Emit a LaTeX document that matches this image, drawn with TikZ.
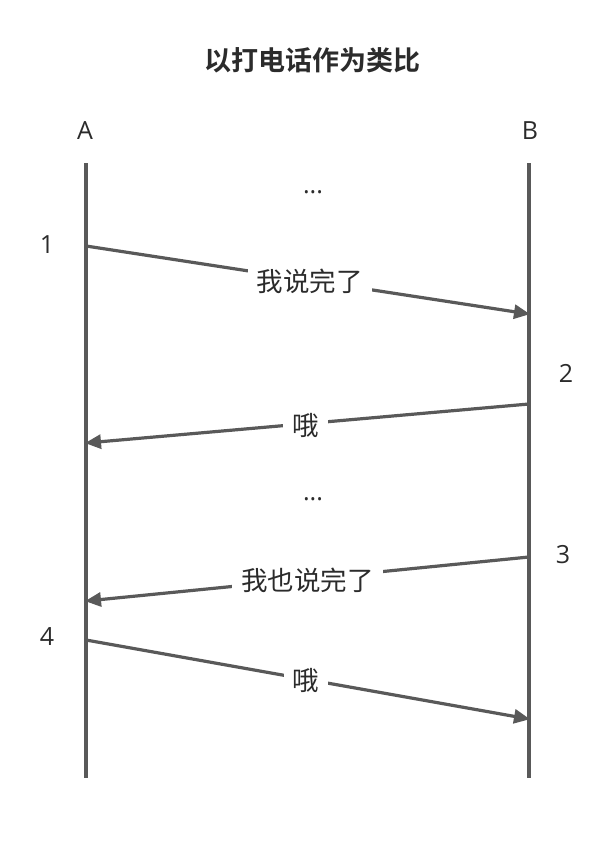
\documentclass[tikz,border=0pt]{standalone}
\usepackage{fontspec}
\setmainfont{Open Sans}
\newfontfamily\cjk{Noto Sans CJK SC}
\newfontfamily\cjkbold{Noto Sans CJK SC Bold}
\usetikzlibrary{arrows.meta}
\definecolor{linec}{HTML}{595959}
\definecolor{textc}{HTML}{2b2b2b}
\begin{document}
\begin{tikzpicture}[x=1pt,y=-1pt,
  life/.style={draw=linec,line width=3.2pt},
  msg/.style={draw=linec,line width=3.2pt,-{Triangle[length=16pt,width=14pt]},shorten >=-1pt},
  lbl/.style={fill=white,text=textc,font=\cjk\fontsize{26.5}{30}\selectfont,inner xsep=9pt,inner ysep=3pt},
  plain/.style={text=textc,font=\fontsize{25}{30}\selectfont,inner sep=0pt}]
\useasboundingbox (0,0) rectangle (606,848);
\node[text=textc,font=\cjkbold\fontsize{27}{32}\selectfont] (title) at (312,60) {以打电话作为类比};
\node[plain] (la) at (85,131) {A};
\node[plain] (lb) at (530,131) {B};
\coordinate (a0) at (86,163);
\coordinate (a1) at (86,778);
\coordinate (b0) at (529,163);
\coordinate (b1) at (529,778);
\draw[life] (a0) -- (a1);
\draw[life] (b0) -- (b1);
\node[plain] (d1) at (313,192) {...};
\node[plain] (d2) at (313,499) {...};
\node[plain] (n1) at (47,245) {1};
\node[plain] (n2) at (566,373) {2};
\node[plain] (n3) at (563,555) {3};
\node[plain] (n4) at (47,637) {4};
\coordinate (m1s) at (86,246);
\coordinate (m1e) at (529,314);
\coordinate (m2s) at (529,404);
\coordinate (m2e) at (86,443);
\coordinate (m3s) at (529,557);
\coordinate (m3e) at (86,601);
\coordinate (m4s) at (86,640);
\coordinate (m4e) at (529,719);
\draw[msg] (m1s) -- node[lbl,pos=0.505,yshift=-1.5pt] (t1) {我说完了} (m1e);
\draw[msg] (m2s) -- node[lbl,pos=0.505,yshift=-1.5pt] (t2) {哦} (m2e);
\draw[msg] (m3s) -- node[lbl,pos=0.5,yshift=-1.5pt] (t3) {我也说完了} (m3e);
\draw[msg] (m4s) -- node[lbl,pos=0.497,yshift=-1.5pt] (t4) {哦} (m4e);
\end{tikzpicture}
\end{document}
